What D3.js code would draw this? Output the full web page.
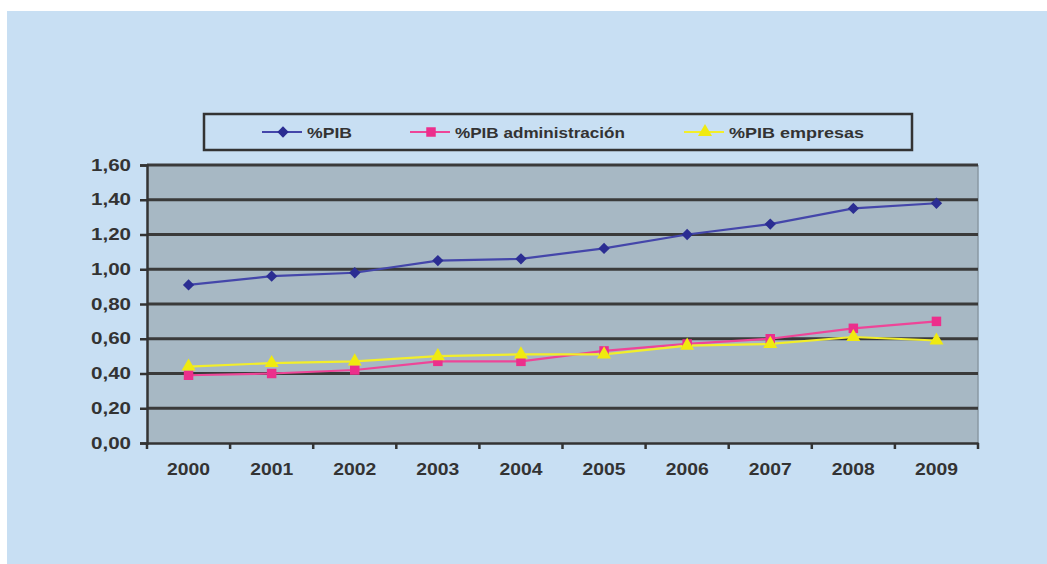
<!DOCTYPE html>
<html><head><meta charset="utf-8">
<script src="https://cdn.jsdelivr.net/npm/d3@7"></script>
<style>html,body{margin:0;padding:0;background:#fff;}svg{display:block;}</style>
</head><body>
<script>
const years = ["2000","2001","2002","2003","2004","2005","2006","2007","2008","2009"];
const pib = [0.91,0.96,0.98,1.05,1.06,1.12,1.20,1.26,1.35,1.38];
const pibAdmin = [0.39,0.40,0.42,0.47,0.47,0.53,0.57,0.60,0.66,0.70];
const pibEmpresas = [0.44,0.46,0.47,0.50,0.51,0.51,0.56,0.57,0.61,0.59];
const yTicks = [0,0.2,0.4,0.6,0.8,1.0,1.2,1.4,1.6];
const seriesNames = ["%PIB","%PIB administración","%PIB empresas"];

const W=1047,H=564;
const svg=d3.select("body").append("svg").attr("width",W).attr("height",H);
svg.append("rect").attr("x",7).attr("y",11).attr("width",W-7).attr("height",H-11).attr("fill","#c8dff3");

const m={l:147,r:978,t:165,b:443};
const x=d3.scaleBand().domain(years).range([m.l,m.r]);
const y=d3.scaleLinear().domain([0,1.6]).range([m.b,m.t]);

svg.append("rect").attr("x",m.l).attr("y",m.t).attr("width",m.r-m.l).attr("height",m.b-m.t).attr("fill","#a7b8c4");
svg.append("line").attr("x1",m.r).attr("x2",m.r).attr("y1",m.t).attr("y2",m.b).attr("stroke","#8a98a3").attr("stroke-width",1.5);

// gridlines
svg.append("g").selectAll("line").data(yTicks.filter(d=>d>0)).join("line")
  .attr("x1",m.l).attr("x2",m.r).attr("y1",d=>y(d)).attr("y2",d=>y(d))
  .attr("stroke","#3a3a3a").attr("stroke-width",3);

const font="Arial, 'Liberation Sans', sans-serif";
// y axis
const ya=svg.append("g").attr("transform",`translate(${m.l},0)`)
  .call(d3.axisLeft(y).tickValues(yTicks).tickSize(7).tickPadding(9).tickFormat(d=>d3.format(".2f")(d).replace(".",",")));
ya.select(".domain").attr("stroke","#333").attr("stroke-width",2.5);
ya.selectAll(".tick line").attr("stroke","#333").attr("stroke-width",2.5);
ya.selectAll("text").attr("font-family",font).attr("font-weight","bold").attr("font-size",16)
  .attr("textLength",40).attr("lengthAdjust","spacingAndGlyphs").attr("fill","#333");

// x axis
const xa=svg.append("g").attr("transform",`translate(0,${m.b})`)
  .call(d3.axisBottom(x).tickSize(0).tickPadding(20));
xa.select(".domain").attr("stroke","#333").attr("stroke-width",2.5);
xa.selectAll("text").attr("font-family",font).attr("font-weight","bold").attr("font-size",16.5)
  .attr("textLength",43).attr("lengthAdjust","spacingAndGlyphs").attr("fill","#333");
svg.append("g").selectAll("line").data(years.concat(["end"])).join("line")
  .attr("x1",(d,i)=>m.l+i*x.bandwidth()).attr("x2",(d,i)=>m.l+i*x.bandwidth())
  .attr("y1",m.b).attr("y2",m.b+6).attr("stroke","#333").attr("stroke-width",2.5);

const cx=d=>x(d)+x.bandwidth()/2;
const series=[
  {name:seriesNames[0],vals:pib,color:"#4446aa",mark:"#2b2d92",sym:d3.symbolSquare,size:64,rot:45,tl:45},
  {name:seriesNames[1],vals:pibAdmin,color:"#ee4598",mark:"#ec2f8c",sym:d3.symbolSquare,size:90,rot:0,tl:170},
  {name:seriesNames[2],vals:pibEmpresas,color:"#f2ee2a",mark:"#f0ea10",sym:d3.symbolTriangle,size:85,rot:0,tl:135}
];
const line=d3.line().x((d,i)=>cx(years[i])).y(d=>y(d));
series.forEach(s=>{
  svg.append("path").datum(s.vals).attr("d",line).attr("fill","none").attr("stroke",s.color).attr("stroke-width",2.2);
});
series.forEach(s=>{
  svg.append("g").selectAll("path").data(s.vals).join("path")
    .attr("d",d3.symbol().type(s.sym).size(s.size))
    .attr("transform",(d,i)=>`translate(${cx(years[i])},${y(d)}) rotate(${s.rot})`)
    .attr("fill",s.mark);
});

// legend
const lg=svg.append("g");
lg.append("rect").attr("x",204).attr("y",114).attr("width",708).attr("height",36)
  .attr("fill","#c8dff3").attr("stroke","#333").attr("stroke-width",2.5);
const lx=[262,410,684];
series.forEach((s,i)=>{
  const g=lg.append("g").attr("transform",`translate(${lx[i]},132)`);
  g.append("line").attr("x1",0).attr("x2",40).attr("stroke",s.color).attr("stroke-width",2.2);
  g.append("path").attr("d",d3.symbol().type(s.sym).size(s.size)).attr("transform",`translate(21,0) rotate(${s.rot})`).attr("fill",s.mark);
  g.append("text").attr("x",45).attr("y",6).text(s.name).attr("font-family",font).attr("font-weight","bold")
    .attr("font-size",15.5).attr("textLength",s.tl).attr("lengthAdjust","spacingAndGlyphs").attr("fill","#333");
});
</script>
</body></html>
